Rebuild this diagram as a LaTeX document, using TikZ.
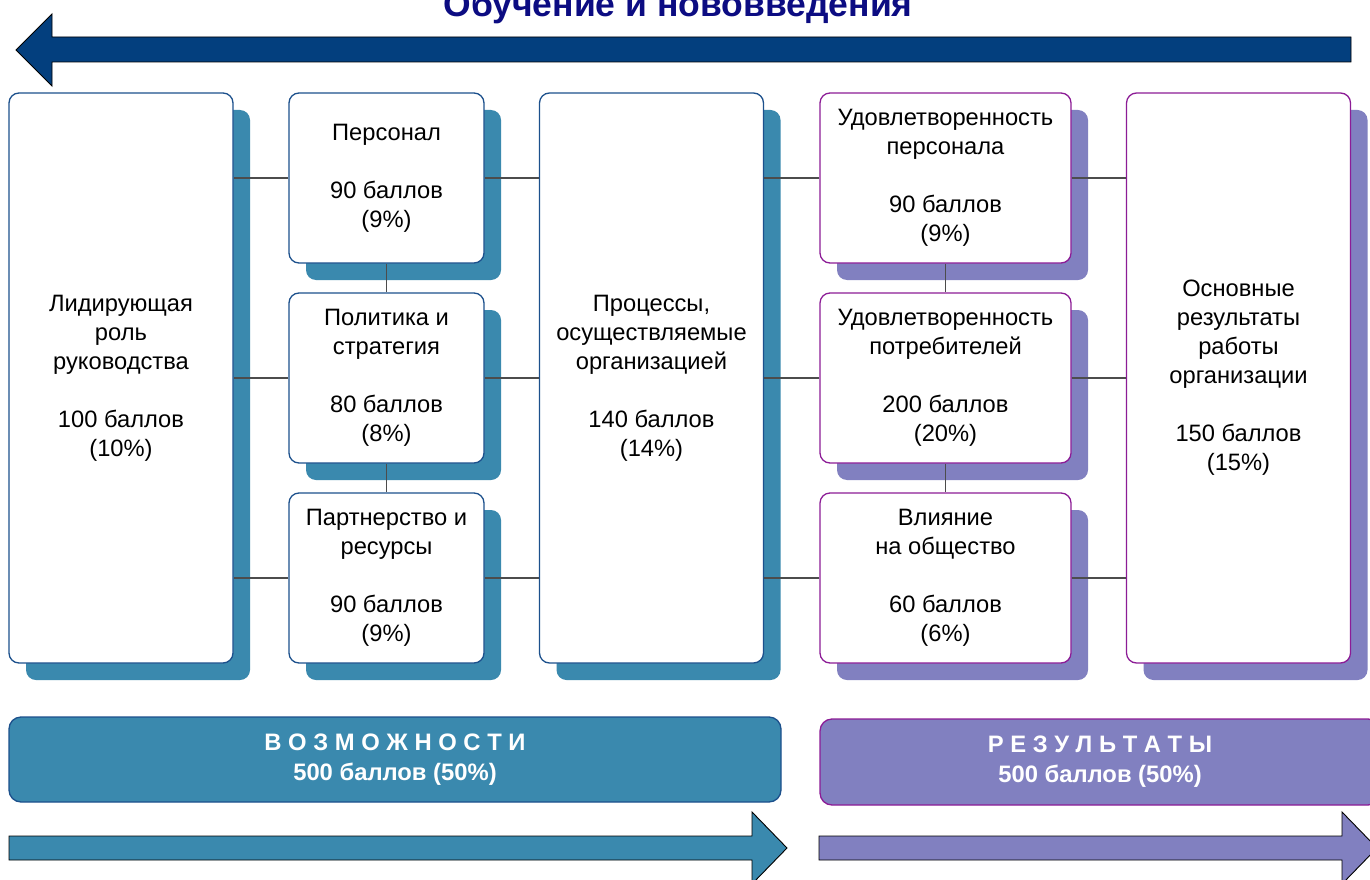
\documentclass[tikz,border=0pt]{standalone}
\usepackage{fontspec}
\setmainfont{Liberation Sans}
\usepackage{tikz}
\usetikzlibrary{positioning,shadows}
\definecolor{LearnNavy}{RGB}{3,63,126}
\definecolor{TitleNavy}{RGB}{12,12,130}
\definecolor{EnablerBlue}{RGB}{58,137,174}
\definecolor{EnablerEdge}{RGB}{28,80,140}
\definecolor{ResultLilac}{RGB}{129,128,192}
\definecolor{ResultEdge}{RGB}{140,28,150}
\tikzset{
  crit/.style={rectangle,rounded corners=10pt,fill=white,line width=1.3pt,inner sep=0pt,
    align=center,font=\fontsize{23.7}{29}\selectfont},
  enabler/.style={crit,draw=EnablerEdge,
    drop shadow={shadow xshift=17pt,shadow yshift=-17pt,opacity=1,fill=EnablerBlue}},
  result/.style={crit,draw=ResultEdge,
    drop shadow={shadow xshift=17pt,shadow yshift=-17pt,opacity=1,fill=ResultLilac}},
  tall/.style={minimum width=224pt,minimum height=570pt},
  cell/.style={minimum height=170pt},
}
\tikzset{link/.style={draw=black!70,line width=1.2pt}, banner/.style={rounded corners=12pt,line width=1.3pt,minimum height=85pt,inner sep=0pt,align=center,text=white,font=\bfseries\fontsize{23.8}{30}\selectfont}, bigarrow/.style={draw=black,line width=0.9pt}}

\begin{document}
\begin{tikzpicture}[x=1pt,y=-1pt]
\useasboundingbox[fill=white] (0,0) rectangle (1370,880);
\clip (0,0) rectangle (1370,880);
\node[font=\bfseries\fontsize{35.5}{40}\selectfont,text=TitleNavy,anchor=base] (title) at (678,17) {Обучение и нововведения};
\filldraw[bigarrow,fill=LearnNavy] (16,50) -- (52,14) -- (52,37) -- (1351,37) -- (1351,62) -- (52,62) -- (52,86) -- cycle;
% enablers
\node[enabler,tall] (lead) at (121,378) {Лидирующая\\роль\\руководства\\[29pt]100 баллов\\(10\%)};
\node[enabler,cell,minimum width=195pt] (staff) at (386.5,178) {Персонал\\[29pt]90 баллов\\(9\%)};
\node[enabler,cell,minimum width=195pt,below=28.7pt of staff] (policy) {Политика и\\стратегия\\[29pt]80 баллов\\(8\%)};
\node[enabler,cell,minimum width=195pt,below=28.7pt of policy] (partner) {Партнерство и\\ресурсы\\[29pt]90 баллов\\(9\%)};
\node[enabler,tall] (proc) at (651.5,378) {Процессы,\\осуществляемые\\организацией\\[29pt]140 баллов\\(14\%)};
% results
\node[result,cell,minimum width=251pt] (peoplesat) at (945.5,178) {Удовлетворенность\\персонала\\[29pt]90 баллов\\(9\%)};
\node[result,cell,minimum width=251pt,below=28.7pt of peoplesat] (custsat) {Удовлетворенность\\потребителей\\[29pt]200 баллов\\(20\%)};
\node[result,cell,minimum width=251pt,below=28.7pt of custsat] (society) {Влияние\\на общество\\[29pt]60 баллов\\(6\%)};
\node[result,tall] (keyres) at (1238.5,378) {Основные\\результаты\\работы\\организации\\[29pt]150 баллов\\(15\%)};
\foreach \row in {staff,policy,partner}{
  \draw[link] (\row.west) -- (\row.west -| lead.east);
  \draw[link] (\row.east) -- (\row.east -| proc.west);
}
\foreach \row in {peoplesat,custsat,society}{
  \draw[link] (\row.west) -- (\row.west -| proc.east);
  \draw[link] (\row.east) -- (\row.east -| keyres.west);
}
\draw[link] (staff.south) -- (policy.north);
\draw[link] (policy.south) -- (partner.north);
\draw[link] (peoplesat.south) -- (custsat.north);
\draw[link] (custsat.south) -- (society.north);
\node[banner,fill=EnablerBlue,draw=EnablerEdge,minimum width=772pt] (enablers) at (395,759.5) {В О З М О Ж Н О С Т И\\500 баллов (50\%)};
\node[banner,fill=ResultLilac,draw=ResultEdge,minimum width=560pt,minimum height=86pt] (results) at (1100,762) {Р Е З У Л Ь Т А Т Ы\\500 баллов (50\%)};
\filldraw[bigarrow,fill=EnablerBlue] (9,836) -- (752,836) -- (752,812) -- (787,848) -- (752,884) -- (752,860) -- (9,860) -- cycle;
\filldraw[bigarrow,fill=ResultLilac] (819,836) -- (1342,836) -- (1342,812) -- (1377,848) -- (1342,884) -- (1342,860) -- (819,860) -- cycle;
\end{tikzpicture}
\end{document}
